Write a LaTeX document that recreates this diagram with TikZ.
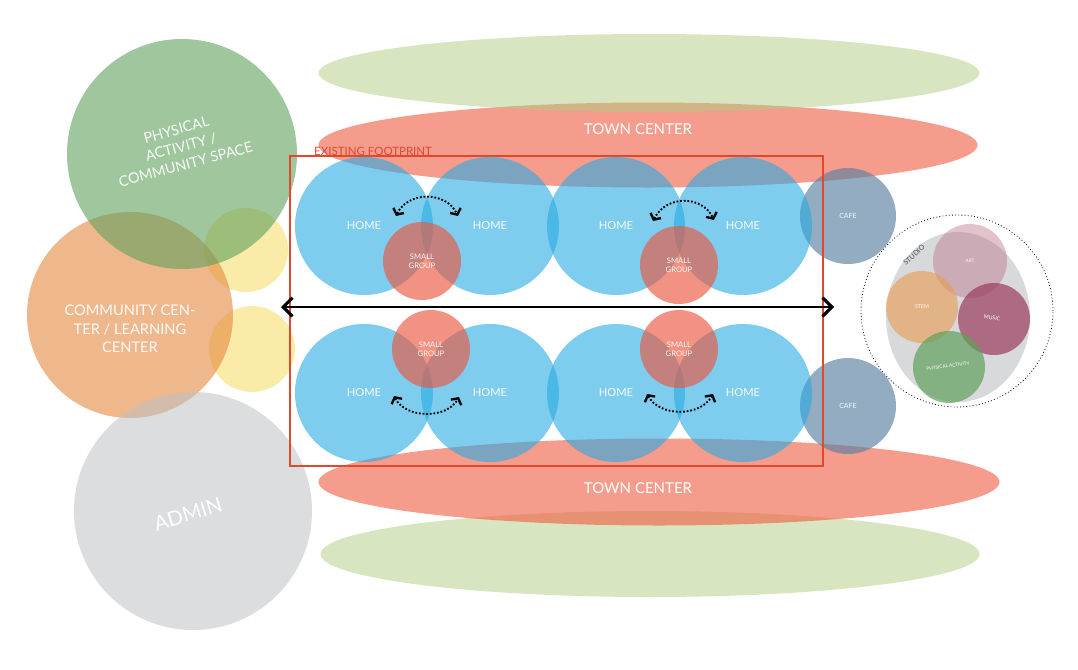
\documentclass[tikz,border=0pt]{standalone}
\usepackage{fontspec}
\setmainfont{Lato}
\usetikzlibrary{arrows.meta,shapes.geometric}
\definecolor{homeblue}{HTML}{29ABE2}
\definecolor{tcred}{HTML}{EE5A3F}
\definecolor{grpred}{HTML}{E9573F}
\definecolor{cafeblue}{HTML}{5A7FA0}
\definecolor{leaf}{HTML}{AFCD81}
\definecolor{pagreen}{HTML}{5FA05C}
\definecolor{ccorange}{HTML}{E5873F}
\definecolor{sunny}{HTML}{F8DA60}
\definecolor{admingrey}{HTML}{BFC1C4}
\definecolor{studiogrey}{HTML}{B0B3B7}
\definecolor{artpink}{HTML}{B9687E}
\definecolor{stemorange}{HTML}{E89A50}
\definecolor{musicred}{HTML}{9C3B5E}
\definecolor{fpred}{HTML}{E0492E}
\definecolor{inkgrey}{HTML}{4A4A4A}

\tikzset{
  blob/.style={circle,inner sep=0pt,text=white,text opacity=.92,align=center},
  oval/.style={ellipse,inner sep=0pt},
  tiny/.style={font=\fontsize{#1}{#1}\selectfont}
}

\begin{document}
\begin{tikzpicture}[x=0.03cm,y=-0.03cm,
    >={Straight Barb[length=8pt,width=16pt,line width=2.6pt]}]
  \useasboundingbox (0,0) rectangle (1078,670);

  % upper band
  \node[oval,fill=tcred,fill opacity=.6,minimum width=19.77cm,minimum height=2.55cm]
    (tctop) at (648,145) {};
  \node[oval,fill=leaf,fill opacity=.5,minimum width=19.83cm,minimum height=2.34cm]
    (leaftop) at (649,73) {};
  % lower band
  \node[oval,fill=leaf,fill opacity=.5,minimum width=19.77cm,minimum height=2.58cm]
    (leafbot) at (650,554) {};
  \node[oval,fill=tcred,fill opacity=.6,minimum width=20.43cm,minimum height=2.61cm]
    (tcbot) at (659,482) {};
  \node[text=white,tiny=12.8] (tctoplbl) at (638,129) {TOWN CENTER};
  \node[text=white,tiny=12.8] (tcbotlbl) at (638,488) {TOWN CENTER};

  % left side programs
  \node[blob,fill=sunny,fill opacity=.55,minimum size=2.52cm] (sped1) at (246,250) {};
  \node[blob,fill=sunny,fill opacity=.55,minimum size=2.58cm] (sped2) at (252,349) {};
  \node[blob,fill=ccorange,fill opacity=.6,minimum size=6.18cm] (comm) at (130,315) {};
  \node[text=white,text opacity=.92,align=center,tiny=12.5] (commlbl) at (130,329)
    {COMMUNITY CEN-\\[3.5pt]TER / LEARNING\\[3.5pt]CENTER};
  \node[blob,fill=pagreen,fill opacity=.6,minimum size=6.9cm] (pa) at (182,154) {};
  \node[text=white,text opacity=.92,align=center,rotate=15,tiny=12.3] (palbl) at (181,147)
    {PHYSICAL\\[3pt]ACTIVITY /\\[3pt]COMMUNITY SPACE};
  \node[blob,fill=admingrey,fill opacity=.55,minimum size=7.14cm] (admin) at (193,511) {};
  \node[text=white,rotate=17,tiny=17.5] (adminlbl) at (188,514) {ADMIN};

  % cafes
  \node[blob,fill=cafeblue,fill opacity=.65,minimum size=2.88cm,tiny=6] (cafe1) at (848,216) {CAFE};
  \node[blob,fill=cafeblue,fill opacity=.65,minimum size=2.88cm,tiny=6] (cafe2) at (848,406) {CAFE};

  % homes
  \foreach \hx/\n in {364/1,490/2,616/3,743/4}{
    \node[blob,fill=homeblue,fill opacity=.6,minimum size=4.14cm,tiny=9.5]
      (hometop\n) at (\hx,226) {HOME};
    \node[blob,fill=homeblue,fill opacity=.6,minimum size=4.14cm,tiny=9.5]
      (homebot\n) at (\hx,393) {HOME};
  }

  % small groups
  \node[blob,fill=grpred,fill opacity=.65,minimum size=2.34cm,tiny=6.5] (grp1) at (422,261) {SMALL\\[1pt]GROUP};
  \node[blob,fill=grpred,fill opacity=.65,minimum size=2.34cm,tiny=6.5] (grp2) at (679,265) {SMALL\\[1pt]GROUP};
  \node[blob,fill=grpred,fill opacity=.65,minimum size=2.34cm,tiny=6.5] (grp3) at (431,349) {SMALL\\[1pt]GROUP};
  \node[blob,fill=grpred,fill opacity=.65,minimum size=2.34cm,tiny=6.5] (grp4) at (679,349) {SMALL\\[1pt]GROUP};

  % existing footprint
  \draw[fpred,line width=1.4pt] (290,156) rectangle (823,466);
  \node[fpred,anchor=base west,tiny=9.8,inner sep=0pt] (fplbl) at (314,155) {EXISTING FOOTPRINT};

  % main corridor arrow
  \coordinate (corw) at (281,307);
  \coordinate (core) at (834,307);
  \draw[<->,line width=1.6pt] (corw) -- (core);

  % swap arrows
  \tikzset{swaparc/.style={line width=1.6pt,dash pattern=on 1.5pt off 1.6pt,
    {Straight Barb[length=4pt,width=10pt,line width=2pt]}-{Straight Barb[length=4pt,width=10pt,line width=2pt]}}}
  \coordinate (s1a) at (396,216); \coordinate (s1b) at (458,216);
  \coordinate (s2a) at (653,221); \coordinate (s2b) at (714,220);
  \coordinate (s3a) at (394,396); \coordinate (s3b) at (459,397);
  \coordinate (s4a) at (647,394); \coordinate (s4b) at (713,394);
  \draw[swaparc] (s1a) .. controls (408,191) and (446,191) .. (s1b);
  \draw[swaparc] (s2a) .. controls (666,195) and (702,195) .. (s2b);
  \draw[swaparc] (s3a) .. controls (406,419) and (447,419) .. (s3b);
  \draw[swaparc] (s4a) .. controls (660,417) and (700,417) .. (s4b);

  % studio
  \node[circle,draw,dotted,line width=.7pt,minimum size=5.76cm] (studioring) at (957,311) {};
  \node[oval,fill=studiogrey,fill opacity=.5,minimum width=4.32cm,minimum height=5.1cm]
    (studio) at (958,317) {};
  \node[blob,fill=artpink,fill opacity=.4,minimum size=2.22cm,tiny=4] (art) at (970,261) {ART};
  \node[blob,fill=stemorange,fill opacity=.6,minimum size=2.16cm,tiny=4.5] (stem) at (922,307) {STEM};
  \node[blob,fill=musicred,fill opacity=.7,minimum size=2.16cm] (music) at (994,319) {};
  \node[text=white,rotate=-8,tiny=4.5] (musiclbl) at (992,318) {MUSIC};
  \node[blob,fill=pagreen,fill opacity=.7,minimum size=2.16cm] (studiopa) at (949,367) {};
  \node[text=white,rotate=8,tiny=4] (studiopalbl) at (948,366) {PHYSICAL ACTIVITY};
  \node[text=inkgrey,rotate=42,tiny=6,inner sep=1pt] (studiolbl) at (914,255) {STUDIO};
\end{tikzpicture}
\end{document}
